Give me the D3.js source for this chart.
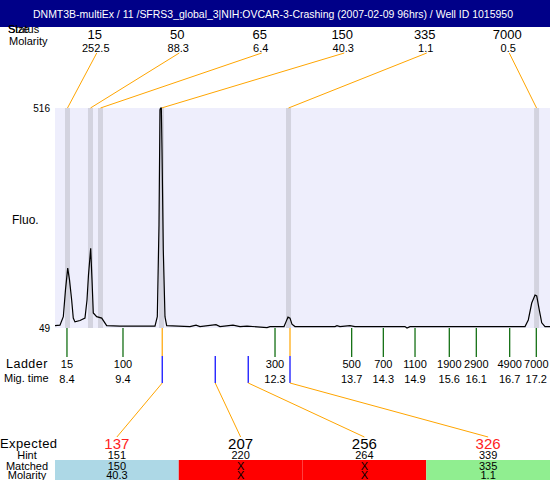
<!DOCTYPE html>
<html>
<head>
<meta charset="utf-8">
<script src="https://cdn.jsdelivr.net/npm/d3@7"></script>
<style>
  body { margin: 0; background: #fff; }
  svg text { font-family: "Liberation Sans", Arial, sans-serif; }
</style>
</head>
<body>
<div id="chart"></div>
<script>
// electropherogram trace: migration time (s) and fluorescence
const traceTime = [8.116, 8.210, 8.273, 8.314, 8.356, 8.390, 8.431, 8.461, 8.493, 8.588, 8.682, 8.720, 8.748, 8.790, 8.815, 8.839, 8.903, 8.998, 9.092, 9.343,
  10.004, 10.048, 10.080, 10.099, 10.112, 10.124, 10.137, 10.161, 10.193, 10.225, 10.665, 10.779, 10.854, 11.156, 11.232, 11.477, 11.610, 11.742, 12.120, 12.176,
  12.441, 12.478, 12.516, 12.554, 12.591, 12.648, 13.404, 13.441, 13.497, 13.686, 13.781, 14.725, 14.763, 14.820, 16.992, 17.054, 17.119, 17.181, 17.213, 17.262,
  17.308, 17.370, 17.464];
const traceFluo = [54, 55, 73, 130, 176, 151, 108, 70, 62, 65, 70, 108, 161, 218, 151, 81, 73, 70, 54, 53,
  53, 73, 268, 512, 516, 516, 427, 215, 73, 54, 52, 55, 52, 56, 52, 55, 52, 53, 50, 52,
  52, 62, 72, 70, 57, 52, 52, 54, 52, 54, 52, 52, 49, 52, 52, 66, 102, 119, 117, 87,
  60, 52, 52];
const fluoRange = [49, 516];

// detected peaks
const peakTime = [8.352, 8.786, 8.975, 10.127, 12.526, 17.210];
const peakSize = ["15", "50", "65", "150", "335", "7000"];
const peakMolarity = ["252.5", "88.3", "6.4", "40.3", "1.1", "0.5"];

// ladder
const ladderTime = [8.342, 9.4, 12.271, 13.719, 14.316, 14.915, 15.562, 16.072, 16.703, 17.205];
const ladderSize = ["15", "100", "300", "500", "700", "1100", "1900", "2900", "4900", "7000"];
const ladderTimeLabel = ["8.4", "9.4", "12.3", "13.7", "14.3", "14.9", "15.6", "16.1", "16.7", "17.2"];

// expected fragments
const expectedTime = [10.141, 11.142, 11.765, 12.554];
const expectedSize = ["137", "207", "256", "326"];
const hintSize = ["151", "220", "264", "339"];
const matchedSize = ["150", "X", "X", "335"];
const matchedMolarity = ["40.3", "X", "X", "1.1"];
const matchedPeak = [3, -1, -1, 4];

const title = "DNMT3B-multiEx / 11 /SFRS3_global_3|NIH:OVCAR-3-Crashing (2007-02-09 96hrs) / Well ID 1015950";

const W = 550, H = 480;
const plotL = 55, plotR = 550, plotT = 108, plotB = 328;

const svg = d3.select("#chart").append("svg")
  .attr("width", W).attr("height", H);

const x = d3.scaleLinear().domain([8.116, 17.464]).range([plotL, plotR]);
const y = d3.scaleLinear().domain(fluoRange).range([plotB, plotT]);

// title bar
svg.append("rect").attr("x", 0).attr("y", 0).attr("width", W).attr("height", 27).attr("fill", "#000088");
svg.append("text").attr("x", 33).attr("y", 17.5)
  .attr("textLength", 480).attr("lengthAdjust", "spacingAndGlyphs")
  .attr("fill", "#fff").attr("font-size", 11).text(title);

// top labels
svg.append("text").attr("x", 8).attr("y", 33).attr("font-size", 11).text("Status");
svg.append("text").attr("x", 8).attr("y", 33).attr("font-size", 11).text("Size");
svg.append("text").attr("x", 9).attr("y", 45).attr("font-size", 11).text("Molarity");

const colW = (plotR - plotL) / 6;
const colX = i => plotL + colW * (i + 0.5) - 1.5;

// plot background
svg.append("rect").attr("x", plotL).attr("y", plotT).attr("width", plotR - plotL).attr("height", plotB - plotT)
  .attr("fill", "#eeeefc");

// peak bands
svg.selectAll(".band").data(peakTime).enter().append("rect")
  .attr("x", d => x(d) - 2.5).attr("y", plotT).attr("width", 5).attr("height", plotB - plotT)
  .attr("fill", "#d3d3df");

// peak labels and connectors
peakTime.forEach((t, i) => {
  svg.append("text").attr("x", colX(i)).attr("y", 39).attr("text-anchor", "middle")
    .attr("font-size", 13).text(peakSize[i]);
  svg.append("text").attr("x", colX(i) + 1).attr("y", 51.5).attr("text-anchor", "middle")
    .attr("font-size", 11).text(peakMolarity[i]);
  svg.append("line").attr("x1", colX(i) + 2).attr("y1", 53).attr("x2", x(t)).attr("y2", plotT)
    .attr("stroke", "orange").attr("stroke-width", 1);
});

// y labels
const yAxis = svg.append("g").attr("transform", `translate(${plotL - 5},0)`)
  .call(d3.axisLeft(y).tickValues(fluoRange).tickSize(0).tickPadding(0));
yAxis.select(".domain").remove();
yAxis.selectAll("text").attr("font-size", 10).attr("font-family", "Liberation Sans, Arial, sans-serif");
svg.append("text").attr("x", 12).attr("y", 224).attr("font-size", 12).text("Fluo.");

// trace
const line = d3.line().x(d => x(d[0])).y(d => y(d[1]));
svg.append("path").datum(d3.zip(traceTime, traceFluo))
  .attr("d", line).attr("fill", "none").attr("stroke", "#000").attr("stroke-width", 1.2);

// ladder ticks
const ladder = svg.append("g");
ladderTime.forEach((t, i) => {
  ladder.append("line").attr("x1", x(t)).attr("x2", x(t)).attr("y1", plotB).attr("y2", 357)
    .attr("stroke", "#006400").attr("stroke-width", 1.2);
  ladder.append("text").attr("x", x(t)).attr("y", 368).attr("text-anchor", "middle")
    .attr("font-size", 11).text(ladderSize[i]);
  ladder.append("text").attr("x", x(t)).attr("y", 383).attr("text-anchor", "middle")
    .attr("font-size", 11).text(ladderTimeLabel[i]);
});
svg.append("text").attr("x", 6).attr("y", 368).attr("font-size", 12.5).attr("letter-spacing", 0.5).text("Ladder");
svg.append("text").attr("x", 4).attr("y", 382).attr("font-size", 11).text("Mig. time");

// expected fragments
const expW = (plotR - plotL) / 4;
const expX = i => plotL + expW * (i + 0.5);
expectedTime.forEach((t, i) => {
  const ex = x(t);
  if (matchedPeak[i] >= 0) {
    svg.append("line").attr("x1", ex).attr("x2", ex).attr("y1", plotB).attr("y2", 356)
      .attr("stroke", "orange").attr("stroke-width", 1.2);
  }
  svg.append("line").attr("x1", ex).attr("x2", ex).attr("y1", 356).attr("y2", 383)
    .attr("stroke", "#0000ff").attr("stroke-width", 1.2);
  svg.append("line").attr("x1", ex).attr("y1", 383).attr("x2", expX(i)).attr("y2", 437)
    .attr("stroke", "orange").attr("stroke-width", 1);

  const fill = matchedPeak[i] >= 0 ? "#90ee90" : "#ff0000";
  svg.append("rect").attr("x", plotL + expW * i).attr("y", 460).attr("width", expW).attr("height", 20)
    .attr("fill", i === 0 ? "#add8e6" : fill);

  svg.append("text").attr("x", expX(i)).attr("y", 449).attr("text-anchor", "middle")
    .attr("font-size", 15).attr("fill", matchedPeak[i] >= 0 ? "#ff2222" : "#000").text(expectedSize[i]);
  svg.append("text").attr("x", expX(i)).attr("y", 459).attr("text-anchor", "middle")
    .attr("font-size", 11).text(hintSize[i]);
  svg.append("text").attr("x", expX(i)).attr("y", 469.5).attr("text-anchor", "middle")
    .attr("font-size", 11).text(matchedSize[i]);
  svg.append("text").attr("x", expX(i)).attr("y", 478.5).attr("text-anchor", "middle")
    .attr("font-size", 11).text(matchedMolarity[i]);
});

svg.append("text").attr("x", 0).attr("y", 448).attr("font-size", 13).attr("letter-spacing", 0.4).text("Expected");
[["Hint", 459], ["Matched", 469.5], ["Molarity", 478.5]].forEach(([t, yy]) => {
  svg.append("text").attr("x", 27).attr("y", yy).attr("text-anchor", "middle").attr("font-size", 11).text(t);
});
</script>
</body>
</html>
